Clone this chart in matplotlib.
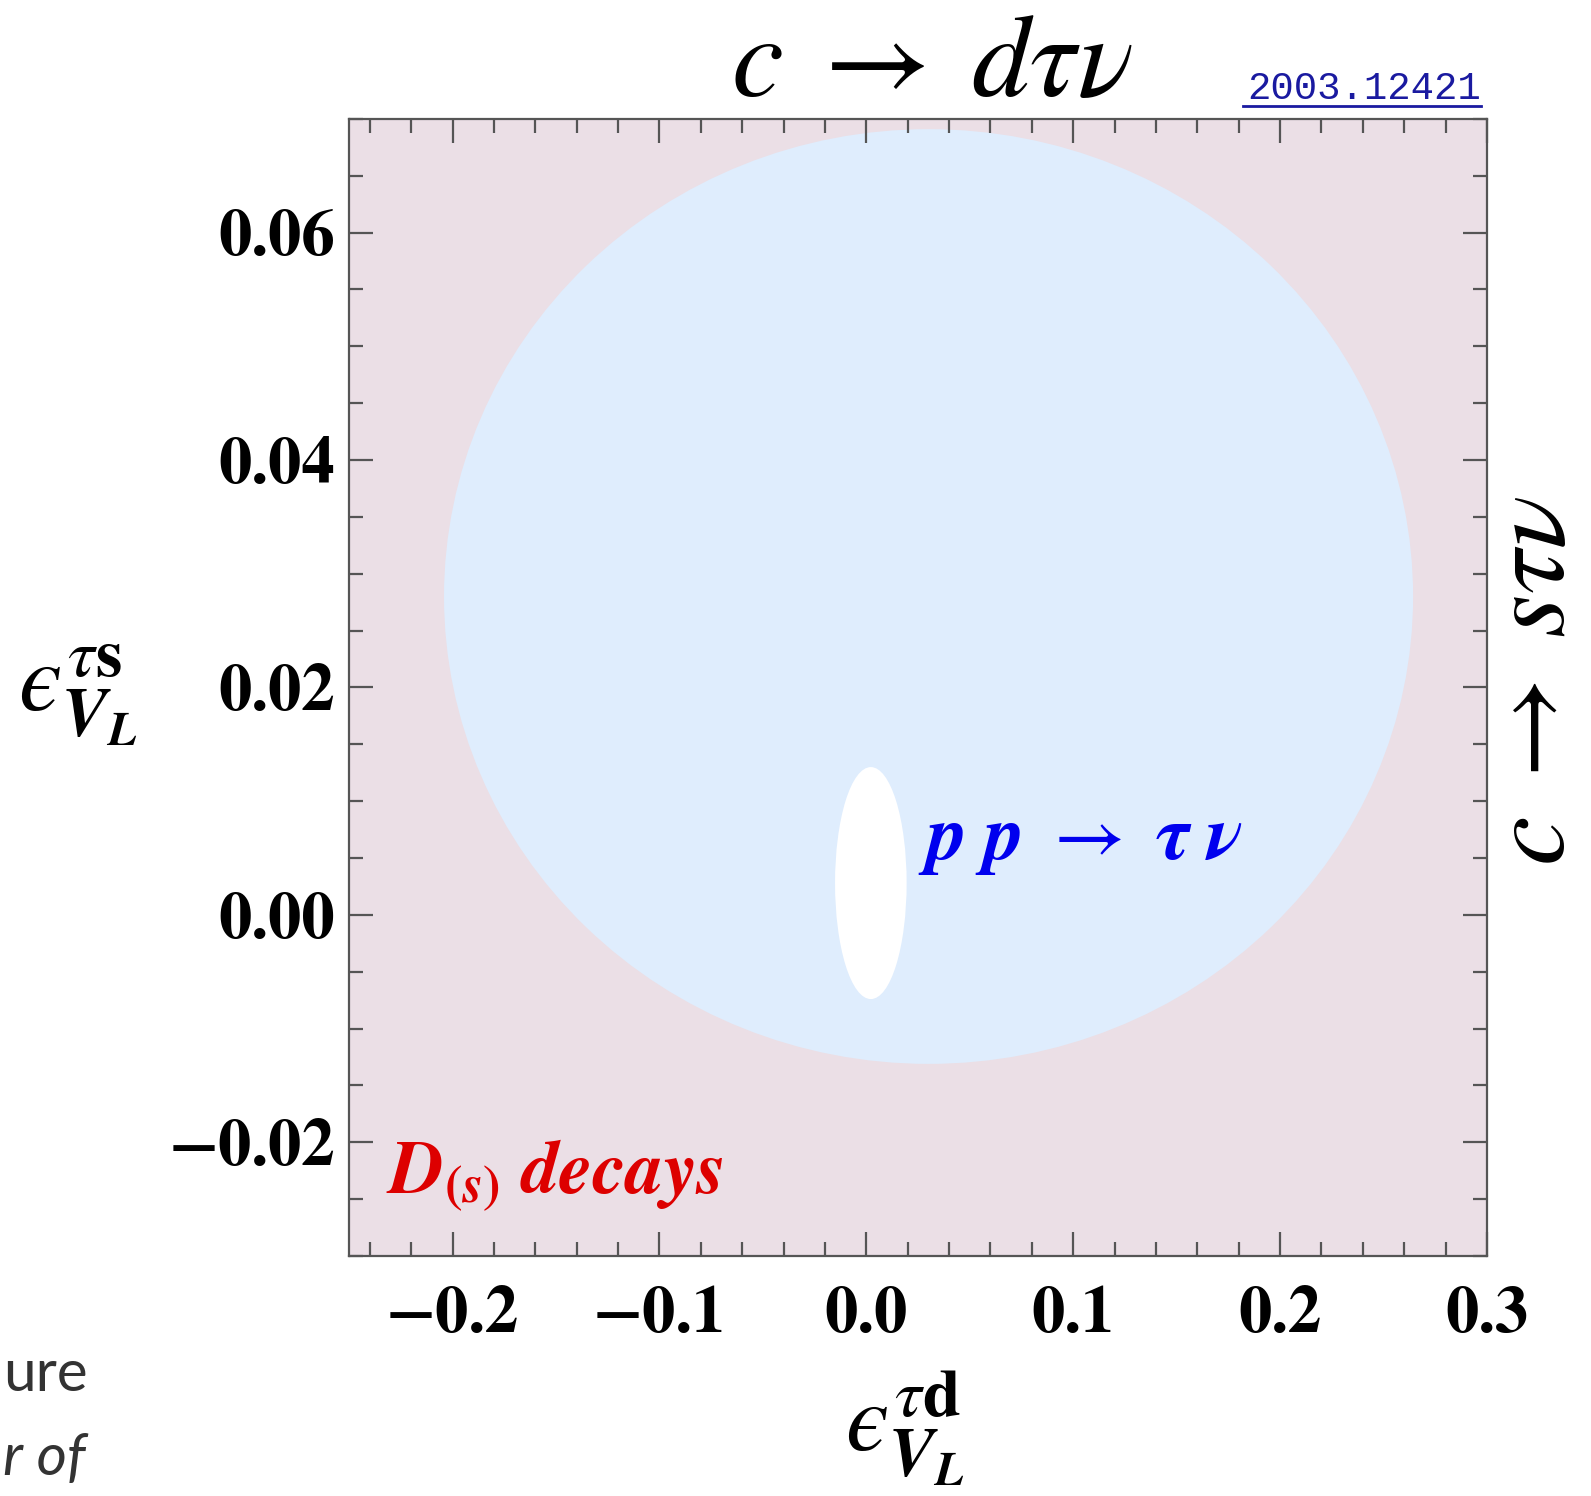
import numpy as np
import matplotlib
matplotlib.use("Agg")
import matplotlib.pyplot as plt
from matplotlib.patches import Ellipse
from matplotlib.lines import Line2D
from matplotlib.ticker import MultipleLocator

plt.rcParams['mathtext.fontset'] = 'stix'
serif = ['STIXGeneral', 'DejaVu Serif']

# axis ranges and ticks
x_range = [-0.25, 0.3]
y_range = [-0.03, 0.07]
x_major = [-0.2, -0.1, 0.0, 0.1, 0.2, 0.3]
x_labels = ["\u22120.2", "\u22120.1", "0.0", "0.1", "0.2", "0.3"]
y_major = [-0.02, 0.0, 0.02, 0.04, 0.06]
y_labels = ["\u22120.02", "0.00", "0.02", "0.04", "0.06"]

# regions: (center x, center y, half width, half height)
lhc_region = [0.0301, 0.0280, 0.2342, 0.0411]
allowed_region = [0.0022, 0.0028, 0.0173, 0.0102]

bg_color = '#ebdfe6'
lhc_color = '#dfedfd'

fig = plt.figure(figsize=(15.91, 14.96), dpi=100)
ax = fig.add_axes([0.2194, 0.1604, 0.7152, 0.7601])
ax.set_facecolor(bg_color)
ax.set_xlim(x_range)
ax.set_ylim(y_range)

cx, cy, rx, ry = lhc_region
ax.add_patch(Ellipse((cx, cy), 2 * rx, 2 * ry, facecolor=lhc_color, edgecolor='none'))
cx, cy, rx, ry = allowed_region
ax.add_patch(Ellipse((cx, cy), 2 * rx, 2 * ry, facecolor='white', edgecolor='none'))

ax.set_xticks(x_major)
ax.set_xticklabels(x_labels)
ax.set_yticks(y_major)
ax.set_yticklabels(y_labels)
ax.xaxis.set_minor_locator(MultipleLocator(0.02))
ax.yaxis.set_minor_locator(MultipleLocator(0.005))
ax.tick_params(which='both', direction='in', top=True, right=True, color='#555555', width=1.6)
ax.tick_params(which='major', length=17)
ax.tick_params(which='minor', length=10)
ax.tick_params(axis='x', which='major', pad=22)
ax.tick_params(axis='y', which='major', pad=10)
for lab in ax.get_xticklabels() + ax.get_yticklabels():
    lab.set_fontfamily(serif)
    lab.set_fontweight('bold')
    lab.set_fontsize(48)
for s in ax.spines.values():
    s.set_color('#555555')
    s.set_linewidth(1.6)

ax.text(0.025, 0.0049, r'$\mathbfit{p}\ \mathbfit{p}\ \rightarrow\ \mathbfit{\tau}\ \mathbfit{\nu}$',
        color='#0000ee', fontsize=56, va='baseline', ha='left')
ax.text(-0.232, -0.0245, r'$\mathbfit{D}_{\mathbf{(}\mathbfit{s}\mathbf{)}}\ \mathbfit{decays}$',
        color='#dd0000', fontsize=54, va='baseline', ha='left')

# title, side label and axis labels
fig.text(0.586, 0.936, r'$c\;\rightarrow\;d\tau\nu$', fontsize=84, ha='center', va='baseline')
fig.text(0.964, 0.545, r'$c\;\rightarrow\;s\tau\nu$', fontsize=80, ha='center', va='center',
         rotation=90)
fig.text(0.049, 0.535, '$\u03f5^{\\tau\\mathbf{s}}_{\\mathbfit{V}_{\\mathbfit{L}}}$', fontsize=70,
         ha='center', va='center')
fig.text(0.569, 0.045, '$\u03f5^{\\tau\\mathbf{d}}_{\\mathbfit{V}_{\\mathbfit{L}}}$', fontsize=70,
         ha='center', va='center')

# arXiv reference
fig.text(0.931, 0.9335, "2003.12421", fontsize=28, family='Liberation Mono', color='#1a1aa0',
         ha='right', va='baseline')
fig.add_artist(Line2D([0.781, 0.931], [0.929, 0.929], transform=fig.transFigure,
                      color='#1a1aa0', linewidth=2))

# fragments of surrounding slide text
fig.text(0.002, 0.070, "ure", fontsize=42, family='Lato', color='#333333',
         ha='left', va='baseline')
fig.text(0.002, 0.014, "r of", fontsize=42, family='Lato', style='italic', color='#333333',
         ha='left', va='baseline')

fig.savefig("out.png", dpi=100)
